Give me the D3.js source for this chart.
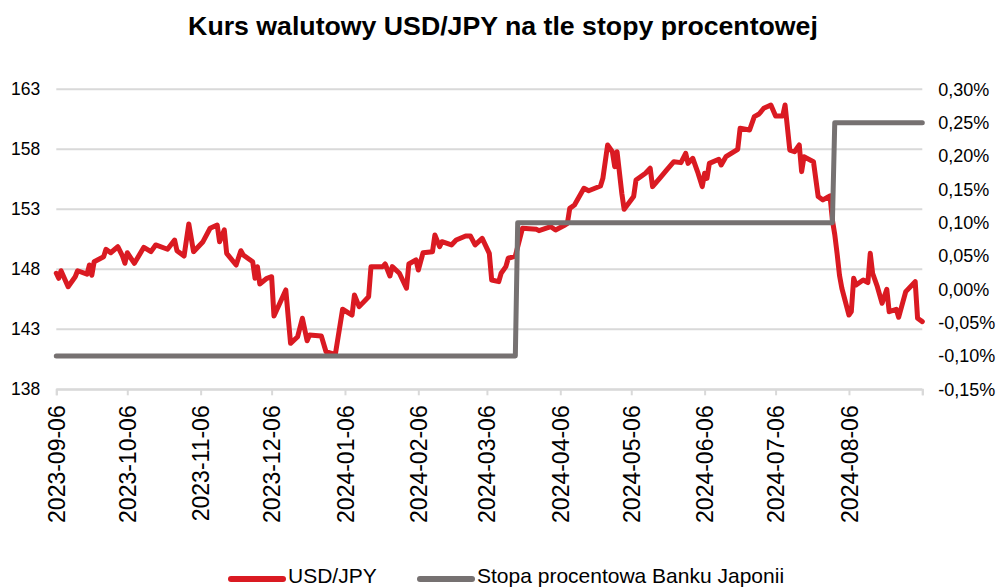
<!DOCTYPE html>
<html>
<head>
    <style>
        body { margin: 0; background: #fff; }
        svg { font-family: "Liberation Sans", Arial, sans-serif; }
        .grid line { stroke: #d9d9d9; stroke-width: 2px; }
        .axis text { fill: #000; }
    </style>
</head>
<body>
<script src="https://d3js.org/d3.v7.min.js"></script>
<svg width="998" height="587"></svg>
<script>
    // USD/JPY daily close
    var usdDates = [
        "2023-09-06","2023-09-07","2023-09-08","2023-09-11","2023-09-14","2023-09-15","2023-09-19","2023-09-20",
        "2023-09-21","2023-09-22","2023-09-26","2023-09-27","2023-09-29","2023-10-02","2023-10-04","2023-10-05",
        "2023-10-06","2023-10-09","2023-10-13","2023-10-16","2023-10-18","2023-10-23","2023-10-26","2023-10-27",
        "2023-10-30","2023-11-01","2023-11-03","2023-11-07","2023-11-10","2023-11-13","2023-11-14","2023-11-16",
        "2023-11-17","2023-11-21","2023-11-23","2023-11-24","2023-11-28","2023-11-29","2023-11-30","2023-12-01",
        "2023-12-04","2023-12-06","2023-12-07","2023-12-12","2023-12-14","2023-12-17","2023-12-19","2023-12-21",
        "2023-12-22","2023-12-27","2023-12-29","2024-01-01","2024-01-02","2024-01-05","2024-01-09","2024-01-10",
        "2024-01-12","2024-01-16","2024-01-17","2024-01-22","2024-01-23","2024-01-25","2024-01-26","2024-01-29",
        "2024-02-01","2024-02-02","2024-02-05","2024-02-06","2024-02-08","2024-02-12","2024-02-13","2024-02-15",
        "2024-02-16","2024-02-20","2024-02-22","2024-02-26","2024-02-28","2024-03-01","2024-03-04","2024-03-07",
        "2024-03-08","2024-03-11","2024-03-12","2024-03-14","2024-03-15","2024-03-18","2024-03-21","2024-03-27",
        "2024-03-28","2024-04-02","2024-04-04","2024-04-08","2024-04-09","2024-04-10","2024-04-12","2024-04-16",
        "2024-04-18","2024-04-23","2024-04-24","2024-04-26","2024-04-28","2024-04-29","2024-04-30","2024-05-02",
        "2024-05-03","2024-05-07","2024-05-08","2024-05-12","2024-05-14","2024-05-15","2024-05-18","2024-05-21",
        "2024-05-24","2024-05-27","2024-05-29","2024-05-30","2024-06-01","2024-06-03","2024-06-05","2024-06-06",
        "2024-06-07","2024-06-08","2024-06-12","2024-06-13","2024-06-15","2024-06-20","2024-06-21","2024-06-25",
        "2024-06-27","2024-06-29","2024-07-01","2024-07-04","2024-07-06","2024-07-09","2024-07-10","2024-07-12",
        "2024-07-14","2024-07-16","2024-07-17","2024-07-18","2024-07-22","2024-07-24","2024-07-26","2024-07-28",
        "2024-07-29","2024-07-30","2024-07-31","2024-08-01","2024-08-02","2024-08-03","2024-08-06","2024-08-07",
        "2024-08-08","2024-08-09","2024-08-12","2024-08-14","2024-08-15","2024-08-16","2024-08-18","2024-08-20",
        "2024-08-22","2024-08-23","2024-08-26","2024-08-27","2024-08-30","2024-09-03","2024-09-04","2024-09-06"
    ];
    var usdValues = [
        147.67,147.25,147.88,146.55,147.38,147.88,147.60,148.36,
        147.50,148.63,149.05,149.67,149.38,149.88,149.10,148.50,
        149.38,148.50,149.83,149.47,150.03,149.67,150.44,149.55,
        149.10,151.78,149.47,150.30,151.42,151.69,150.30,151.28,
        149.33,148.36,149.55,149.19,148.63,147.25,148.22,146.78,
        147.25,147.38,144.11,146.28,141.83,142.38,143.92,142.05,
        142.53,142.44,141.13,140.95,141.00,144.67,144.19,145.86,
        144.89,145.72,148.22,148.22,148.44,147.44,148.22,147.67,
        146.42,148.44,148.78,147.94,149.38,149.47,150.86,149.89,
        150.30,150.03,150.44,150.78,150.78,150.03,150.58,149.33,
        147.11,146.97,147.67,148.22,148.92,149.10,151.42,151.33,
        151.22,151.55,151.28,151.69,151.83,153.08,153.36,154.75,
        154.55,154.94,155.58,158.36,157.80,156.55,157.80,154.33,
        153.00,154.06,155.44,156.00,156.42,154.89,155.58,156.28,
        156.97,156.89,157.67,156.83,157.25,156.14,154.89,156.00,
        155.58,156.83,157.17,156.69,157.38,158.00,159.75,159.61,
        160.72,160.94,161.42,161.69,160.78,160.78,161.69,157.94,
        157.80,158.36,156.14,157.38,156.97,154.06,153.78,154.00,
        154.11,152.11,150.90,149.30,147.50,146.42,144.19,144.47,
        147.25,146.69,147.11,146.89,149.33,147.67,146.55,145.17,
        146.33,144.47,144.67,144.00,146.14,146.97,143.92,143.64
    ];

    // Bank of Japan policy rate (%)
    var rateDates = ["2023-09-06","2024-03-18","2024-03-19","2024-07-30","2024-07-31","2024-09-06"];
    var rateValues = [-0.10, -0.10, 0.10, 0.10, 0.25, 0.25];

    var leftTicks = [138, 143, 148, 153, 158, 163];
    var rightTicks = [-0.15, -0.10, -0.05, 0.00, 0.05, 0.10, 0.15, 0.20, 0.25, 0.30];
    var dateTicks = ["2023-09-06","2023-10-06","2023-11-06","2023-12-06","2024-01-06","2024-02-06",
                     "2024-03-06","2024-04-06","2024-05-06","2024-06-06","2024-07-06","2024-08-06"];

    var parse = d3.timeParse("%Y-%m-%d");
    var usd = usdDates.map(function(d, i) { return {date: parse(d), value: usdValues[i]}; });
    var rate = rateDates.map(function(d, i) { return {date: parse(d), value: rateValues[i]}; });

    var plotL = 56.3, plotR = 922.3, plotT = 89.3, plotB = 389.3;

    var x = d3.scaleTime()
        .domain([parse("2023-09-06"), parse("2024-09-06")])
        .range([plotL, plotR]);
    var yL = d3.scaleLinear().domain([138, 163]).range([plotB, plotT]);
    var yR = d3.scaleLinear().domain([-0.15, 0.30]).range([plotB, plotT]);

    var svg = d3.select("svg");

    // title
    svg.append("text")
        .attr("x", 503)
        .attr("y", 35)
        .attr("text-anchor", "middle")
        .style("font-size", "26.7px")
        .style("font-weight", "bold")
        .text("Kurs walutowy USD/JPY na tle stopy procentowej");

    // horizontal gridlines
    svg.append("g").attr("class", "grid")
        .selectAll("line")
        .data(leftTicks)
        .enter().append("line")
        .attr("x1", plotL).attr("x2", plotR)
        .attr("y1", function(d) { return yL(d); })
        .attr("y2", function(d) { return yL(d); });

    // left axis
    var gl = svg.append("g").attr("class", "axis")
        .attr("transform", "translate(" + plotL + ",0)")
        .call(d3.axisLeft(yL).tickValues(leftTicks).tickSize(0).tickPadding(16));
    gl.select(".domain").remove();
    gl.selectAll("text").style("font-size", "17.5px");

    // right axis
    var pct = function(v) {
        return (v < 0 ? "-" : "") + Math.abs(v).toFixed(2).replace(".", ",") + "%";
    };
    var gr = svg.append("g").attr("class", "axis")
        .attr("transform", "translate(" + plotR + ",0)")
        .call(d3.axisRight(yR).tickValues(rightTicks).tickFormat(pct).tickSize(0).tickPadding(16));
    gr.select(".domain").remove();
    gr.selectAll("text").style("font-size", "18px");

    // bottom axis
    var tickDates = dateTicks.map(parse);
    var gb = svg.append("g").attr("class", "axis")
        .attr("transform", "translate(0," + plotB + ")")
        .call(d3.axisBottom(x).tickValues(tickDates.concat([x.domain()[1]]))
            .tickSize(6)
            .tickFormat(function(d, i) { return i < dateTicks.length ? d3.timeFormat("%Y-%m-%d")(d) : ""; }));
    gb.select(".domain").attr("stroke", "#d9d9d9").attr("stroke-width", 2);
    gb.selectAll(".tick line").attr("stroke", "#d9d9d9").attr("stroke-width", 2);
    gb.selectAll("text")
        .attr("transform", "rotate(-90)")
        .attr("x", -16)
        .attr("y", 0)
        .attr("dy", "0.35em")
        .style("text-anchor", "end")
        .style("font-size", "23px");

    // USD/JPY line
    var lineL = d3.line()
        .x(function(d) { return x(d.date); })
        .y(function(d) { return yL(d.value); });
    svg.append("path")
        .datum(usd)
        .attr("fill", "none")
        .attr("stroke", "#da1a22")
        .attr("stroke-width", 5)
        .attr("stroke-linejoin", "round")
        .attr("stroke-linecap", "round")
        .attr("d", lineL);

    // policy rate line
    var lineR = d3.line()
        .x(function(d) { return x(d.date); })
        .y(function(d) { return yR(d.value); });
    svg.append("path")
        .datum(rate)
        .attr("fill", "none")
        .attr("stroke", "#767171")
        .attr("stroke-width", 5)
        .attr("stroke-linejoin", "round")
        .attr("stroke-linecap", "round")
        .attr("d", lineR);

    // legend
    var legend = [
        {label: "USD/JPY", color: "#da1a22", x: 231},
        {label: "Stopa procentowa Banku Japonii", color: "#767171", x: 420}
    ];
    var lg = svg.append("g").selectAll("g")
        .data(legend)
        .enter().append("g")
        .attr("transform", function(d) { return "translate(" + d.x + ",579)"; });
    lg.append("line")
        .attr("x1", 0).attr("x2", 52)
        .attr("stroke", function(d) { return d.color; })
        .attr("stroke-width", 6)
        .attr("stroke-linecap", "round");
    lg.append("text")
        .attr("x", 57)
        .attr("y", 4)
        .style("font-size", "21px")
        .text(function(d) { return d.label; });
</script>
</body>
</html>
